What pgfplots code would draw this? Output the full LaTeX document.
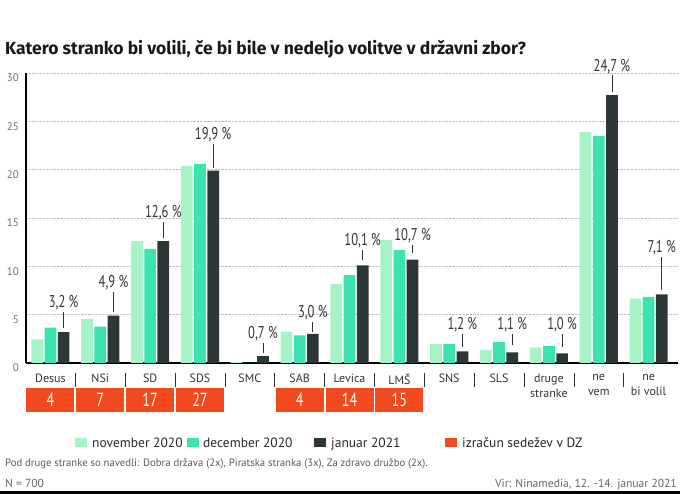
\documentclass[border=0pt]{standalone}
\usepackage{fontspec}
\setmainfont{PT Sans}
\newfontfamily\cond[FakeStretch=0.74]{PT Sans}
\newfontfamily\titlefont{Fira Sans}
\usepackage{pgfplots}
\usepackage{pgfplotstable}
\pgfplotsset{compat=1.18}

\definecolor{nov}{HTML}{A6F4C5}
\definecolor{dec}{HTML}{3CE2B0}
\definecolor{jan}{HTML}{2E3737}
\definecolor{seat}{HTML}{F14A1E}
\definecolor{txt}{HTML}{333333}
\definecolor{tick}{HTML}{6E6E6E}

% anketa Ninamedia, delez v %
\pgfplotstableread{
x nov dec jan
0 2.45 3.65 3.2
1 4.55 3.75 4.9
2 12.6 11.8 12.6
3 20.4 20.6 19.9
4 0.08 0 0.7
5 3.25 2.85 3.0
6 8.15 9.1 10.1
7 12.7 11.7 10.7
8 1.95 1.95 1.2
9 1.35 2.15 1.1
10 1.6 1.75 1.0
11 23.9 23.5 27.7
12 6.65 6.85 7.1
}\votes

% oznake za januar
\pgfplotstableread{
x top lab
0 5.27 3,2~\%
1 7.33 4,9~\%
2 14.57 12,6~\%
3 22.7 19,9~\%
4 2.07 0,7~\%
5 4.24 3,0~\%
6 11.67 10,1~\%
7 12.19 10,7~\%
8 3.0 1,2~\%
9 3.0 1,1~\%
10 3.0 1,0~\%
11 29.75 24,7~\%
12 10.95 7,1~\%
}\labels

% crte do oznak (pari tock, nan loci)
\pgfplotstableread{
x y
0 3.62
0 5.27
0 nan
1 5.27
1 7.33
1 nan
2 12.9
2 14.57
2 nan
3 20.2
3 22.7
3 nan
4 1.03
4 2.07
4 nan
5 3.2
5 4.24
5 nan
6 10.64
6 11.67
6 nan
7 11.36
7 12.19
7 nan
8 1.65
8 3.0
8 nan
9 1.86
9 3.0
9 nan
10 1.65
10 3.0
10 nan
11 28.0
11 29.75
11 nan
12 7.54
12 10.95
}\leaders

% izracun sedezev v DZ
\pgfplotstableread{
x s
0 4
1 7
2 17
3 27
5 4
6 14
7 15
}\seats

\begin{document}
\begin{tikzpicture}
\begin{scope}[shift={(0pt,494pt)}, x=1pt, y=-1pt]
  \useasboundingbox (0,0) rectangle (680,494);
\end{scope}

\begin{axis}[
  at={(26pt,131pt)}, anchor=south west,
  scale only axis, width=652pt, height=290pt,
  xmin=-0.49, xmax=12.59, ymin=0, ymax=30,
  ytick={0,5,...,30},
  xtick={0,...,12},
  xticklabels={Desus,NSi,SD,SDS,SMC,SAB,Levica,LMŠ,SNS,SLS,{druge\\stranke},{ne\\vem},{ne\\bi volil}},
  xticklabel style={font=\fontsize{12}{15}\selectfont, text=txt, align=center, anchor=north, inner sep=0pt, yshift=-11pt},
  yticklabel style={font=\fontsize{11}{13}\selectfont, text=tick, anchor=east, inner sep=0pt, xshift=-7pt, yshift=-5pt},
  /pgf/number format/assume math mode=true,
  major tick length=0pt,
  ymajorgrids, grid style={densely dotted, black!25, line width=0.5pt},
  axis x line*=bottom, axis y line*=left,
  axis line style={black, line width=1.6pt, -},
  clip=false,
  ybar, bar width=0.235,
]
\addplot[draw=none, fill=nov, bar shift=-0.265] table[x=x, y=nov]{\votes};
\addplot[draw=none, fill=dec, bar shift=0] table[x=x, y=dec]{\votes};
\addplot[draw=none, fill=jan, bar shift=0.265] table[x=x, y=jan]{\votes};

% crte do oznak
\addplot[sharp plot, mark=none, forget plot, txt, line width=0.9pt, unbounded coords=jump]
  table[x expr=\thisrow{x}+0.265, y=y]{\leaders};
\addplot[sharp plot, draw=none, mark=none, forget plot, nodes near coords, point meta=explicit symbolic,
  every node near coord/.style={anchor=south, inner sep=1.5pt, font=\fontsize{17}{18}\selectfont\cond, text=txt}]
  table[x expr=\thisrow{x}+0.265, y=top, meta=lab]{\labels};

% sedezi
\addplot[sharp plot, draw=none, mark=none, forget plot, nodes near coords, point meta=explicit symbolic,
  every node near coord/.style={anchor=north, fill=seat, text=white, minimum width=48pt, minimum height=24pt, inner sep=0pt, yshift=-25pt, font=\fontsize{19}{20}\selectfont\cond}]
  table[x=x, y expr=0, meta=s]{\seats};

\pgfplotsinvokeforeach{0,...,11}{
  \draw[txt, line width=0.6pt] ([yshift=-10pt]axis cs:#1.5,0) -- ([yshift=-24pt]axis cs:#1.5,0);
}
\end{axis}

\begin{scope}[shift={(0pt,494pt)}, x=1pt, y=-1pt]
  \node[anchor=base west, inner sep=0pt, text=black!90] at (5,55)
    {\titlefont\bfseries\fontsize{17.5}{20}\selectfont Katero stranko bi volili, če bi bile v nedeljo volitve v državni zbor?};
  % legenda
  \fill[nov] (75,438) rectangle (87,447);
  \node[anchor=base west, inner sep=0pt, text=black!85, font=\fontsize{13.5}{16}\selectfont] at (92,448) {november 2020};
  \fill[dec] (187,438) rectangle (199,447);
  \node[anchor=base west, inner sep=0pt, text=black!85, font=\fontsize{13.5}{16}\selectfont] at (203,448) {december 2020};
  \fill[jan] (314,438) rectangle (326,447);
  \node[anchor=base west, inner sep=0pt, text=black!85, font=\fontsize{13.5}{16}\selectfont] at (331,448) {januar 2021};
  \fill[seat] (445,438) rectangle (457,447);
  \node[anchor=base west, inner sep=0pt, text=black!85, font=\fontsize{13.5}{16}\selectfont] at (462,448) {izračun sedežev v DZ};
  % opombe
  \node[anchor=base west, inner sep=0pt, text=black!65, font=\fontsize{10.7}{13}\selectfont] at (5,467)
    {Pod druge stranke so navedli: Dobra država (2x), Piratska stranka (3x), Za zdravo družbo (2x).};
  \node[anchor=base west, inner sep=0pt, text=black!60, font=\fontsize{11.6}{14}\selectfont] at (5,488) {N = 700};
  \node[anchor=base east, inner sep=0pt, text=black!60, font=\fontsize{11.6}{14}\selectfont] at (677,488) {Vir: Ninamedia, 12. -14. januar 2021};
  \fill[black] (0,491) rectangle (680,494);
\end{scope}
\end{tikzpicture}
\end{document}
